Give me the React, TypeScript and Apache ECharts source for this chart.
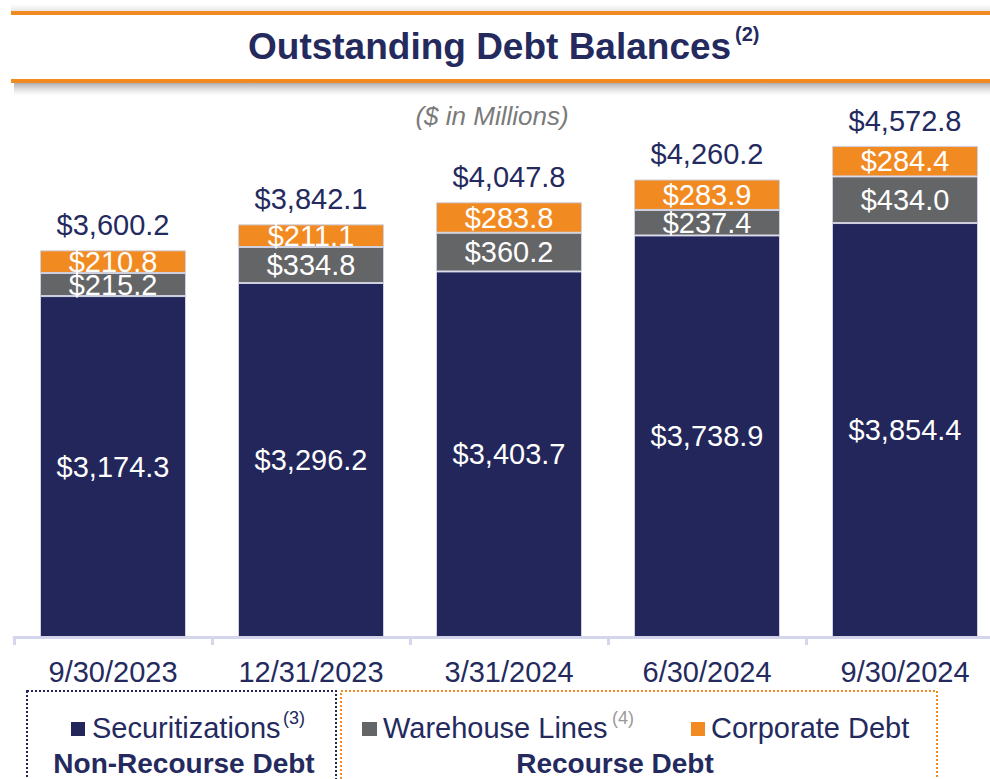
import React, { useEffect, useRef } from "react";
import * as echarts from "echarts";

const categories = ["9/30/2023", "12/31/2023", "3/31/2024", "6/30/2024", "9/30/2024"];
const securitizations = [3174.3, 3296.2, 3403.7, 3738.9, 3854.4];
const warehouseLines = [215.2, 334.8, 360.2, 237.4, 434.0];
const corporateDebt = [210.8, 211.1, 283.8, 283.9, 284.4];
const totals = [3600.2, 3842.1, 4047.8, 4260.2, 4572.8];

const NAVY = "#22265a";
const GRAY = "#646567";
const ORANGE = "#f28a22";
const TEXT = "#242a5e";
const EDGE = "#cfd1e2";
const FONT = 'Arial, "Liberation Sans", sans-serif';

const fmt = (v: number) =>
  "$" + v.toLocaleString("en-US", { minimumFractionDigits: 1, maximumFractionDigits: 1 });

export default function App() {
  const ref = useRef<HTMLDivElement>(null);
  useEffect(() => {
    if (!ref.current) return;
    const chart = echarts.init(ref.current, undefined, { renderer: "svg" });
    const segLabel = {
      show: true,
      position: "inside",
      color: "#ffffff",
      fontSize: 29,
      fontFamily: FONT,
      formatter: (p: any) => fmt(p.value),
    };
    chart.setOption({
      animation: false,
      backgroundColor: "#ffffff",
      grid: { left: 14, right: 0, top: 100, bottom: 142, containLabel: false },
      xAxis: {
        type: "category",
        data: categories,
        offset: 3,
        axisLine: { show: true, lineStyle: { color: "#d3d6ec", width: 3 } },
        axisTick: { show: true, length: 8, lineStyle: { color: "#d3d6ec", width: 3 } },
        axisLabel: { color: TEXT, fontSize: 29, fontFamily: FONT, margin: 17 },
      },
      yAxis: {
        type: "value",
        min: 0,
        max: 5000,
        show: false,
        splitLine: { show: false },
      },
      series: [
        {
          name: "Securitizations",
          type: "bar",
          stack: "debt",
          barWidth: 146,
          data: securitizations,
          itemStyle: { color: NAVY, borderColor: EDGE, borderWidth: 1 },
          label: segLabel,
        },
        {
          name: "Warehouse Lines",
          type: "bar",
          stack: "debt",
          barWidth: 146,
          data: warehouseLines,
          itemStyle: { color: GRAY, borderColor: EDGE, borderWidth: 1 },
          label: segLabel,
        },
        {
          name: "Corporate Debt",
          type: "bar",
          stack: "debt",
          barWidth: 146,
          data: corporateDebt,
          itemStyle: { color: ORANGE, borderColor: EDGE, borderWidth: 1 },
          label: segLabel,
        },
        {
          name: "Total",
          type: "scatter",
          data: totals,
          symbolSize: 1,
          itemStyle: { color: "rgba(0,0,0,0)", opacity: 1 },
          label: {
            show: true,
            position: "top",
            distance: 10,
            color: TEXT,
            fontSize: 29,
            fontFamily: FONT,
            formatter: (p: any) => fmt(p.value),
          },
        },
      ],
      graphic: [
        {
          type: "rect",
          shape: { x: 11, y: 4, width: 990, height: 8 },
          style: {
            fill: new echarts.graphic.LinearGradient(0, 0, 0, 1, [
              { offset: 0, color: "rgba(200,200,200,0)" },
              { offset: 1, color: "rgba(200,200,200,0.5)" },
            ]),
          },
        },
        { type: "rect", shape: { x: 11, y: 11, width: 990, height: 4 }, style: { fill: ORANGE } },
        {
          type: "rect",
          shape: { x: 14, y: 83, width: 990, height: 13 },
          style: {
            fill: new echarts.graphic.LinearGradient(0, 0, 0, 1, [
              { offset: 0, color: "rgba(140,140,140,0.7)" },
              { offset: 1, color: "rgba(200,200,200,0)" },
            ]),
          },
        },
        { type: "rect", shape: { x: 11, y: 79, width: 990, height: 4 }, style: { fill: ORANGE } },
        {
          type: "text",
          x: 248,
          y: 46,
          style: {
            text: "Outstanding Debt Balances",
            fill: TEXT,
            font: `bold 37px ${FONT}`,
            textAlign: "left",
            textVerticalAlign: "middle",
          },
        },
        {
          type: "text",
          x: 735,
          y: 34,
          style: {
            text: "(2)",
            fill: TEXT,
            font: `bold 20px ${FONT}`,
            textAlign: "left",
            textVerticalAlign: "middle",
          },
        },
        {
          type: "text",
          x: 492,
          y: 116,
          style: {
            text: "($ in Millions)",
            fill: "#7a7a7a",
            font: `italic 26px ${FONT}`,
            textAlign: "center",
            textVerticalAlign: "middle",
          },
        },
        {
          type: "rect",
          shape: { x: 27, y: 691, width: 309, height: 130 },
          style: { fill: "none", stroke: NAVY, lineWidth: 2, lineDash: [2, 2] },
        },
        {
          type: "rect",
          shape: { x: 341, y: 691, width: 596, height: 130 },
          style: { fill: "none", stroke: ORANGE, lineWidth: 2, lineDash: [2, 2] },
        },
        { type: "rect", shape: { x: 71, y: 722, width: 14, height: 14 }, style: { fill: NAVY } },
        {
          type: "text",
          x: 92,
          y: 728,
          style: { text: "Securitizations", fill: TEXT, font: `29px ${FONT}`, textVerticalAlign: "middle" },
        },
        {
          type: "text",
          x: 283,
          y: 718,
          style: { text: "(3)", fill: TEXT, font: `18px ${FONT}`, textVerticalAlign: "middle" },
        },
        { type: "rect", shape: { x: 362, y: 722, width: 15, height: 14 }, style: { fill: GRAY } },
        {
          type: "text",
          x: 383,
          y: 728,
          style: { text: "Warehouse Lines", fill: TEXT, font: `29px ${FONT}`, textVerticalAlign: "middle" },
        },
        {
          type: "text",
          x: 612,
          y: 718,
          style: { text: "(4)", fill: "#9a9a9a", font: `18px ${FONT}`, textVerticalAlign: "middle" },
        },
        { type: "rect", shape: { x: 691, y: 722, width: 14, height: 14 }, style: { fill: ORANGE } },
        {
          type: "text",
          x: 711,
          y: 728,
          style: { text: "Corporate Debt", fill: TEXT, font: `29px ${FONT}`, textVerticalAlign: "middle" },
        },
        {
          type: "text",
          x: 184,
          y: 763,
          style: {
            text: "Non-Recourse Debt",
            fill: TEXT,
            font: `bold 28px ${FONT}`,
            textAlign: "center",
            textVerticalAlign: "middle",
          },
        },
        {
          type: "text",
          x: 615,
          y: 763,
          style: {
            text: "Recourse Debt",
            fill: TEXT,
            font: `bold 28px ${FONT}`,
            textAlign: "center",
            textVerticalAlign: "middle",
          },
        },
      ],
    });
    return () => chart.dispose();
  }, []);
  return (
    <div style={{ position: "absolute", left: 0, top: 0, width: 990, height: 779, overflow: "hidden" }}>
      <div ref={ref} style={{ position: "absolute", left: 0, top: 0, width: 1004, height: 779 }} />
    </div>
  );
}
